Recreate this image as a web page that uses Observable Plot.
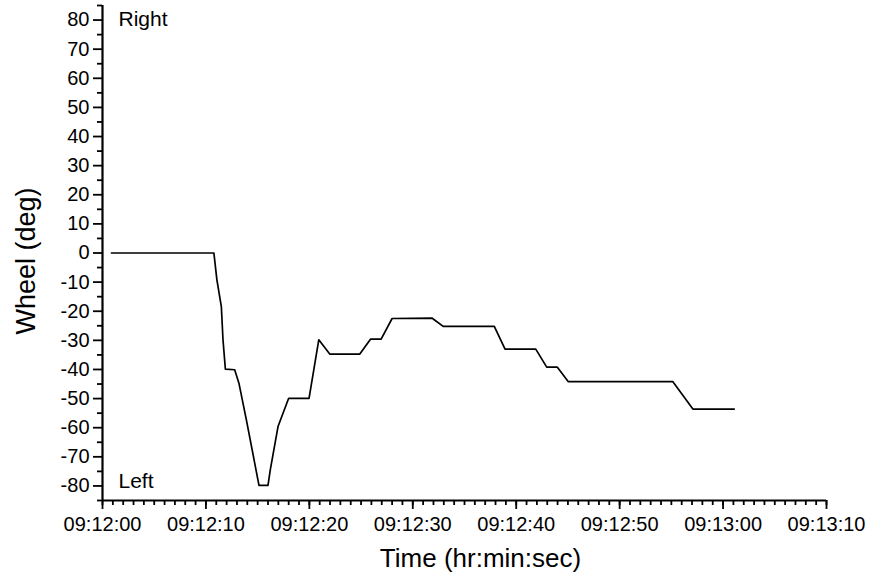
<!DOCTYPE html>
<html>
<head>
<meta charset="utf-8">
<script src="https://cdn.jsdelivr.net/npm/d3@7"></script>
<script src="https://cdn.jsdelivr.net/npm/@observablehq/plot@0.6"></script>
<style>
  html, body { margin: 0; padding: 0; background: #fff; }
  #chart svg { display: block; }
</style>
</head>
<body>
<div id="chart"></div>
<script>
// Seconds after 09:12:00
const timeSec = [0.87, 10.77, 11.06, 11.49, 11.65, 11.88, 12.78, 13.19, 13.91, 15.13, 16.0, 16.23, 16.97, 18.0, 19.97, 20.91, 21.97, 24.88, 25.91, 26.94, 28.0, 31.88, 32.94, 37.88, 38.92, 41.89, 42.95, 43.98, 45.04, 55.15, 57.08, 61.08];
const wheelDeg = [0, 0, -9.2, -18.4, -29.8, -39.9, -40.1, -44.7, -57.3, -79.8, -79.8, -74.3, -59.6, -49.9, -49.9, -29.8, -34.7, -34.7, -29.6, -29.6, -22.5, -22.4, -25.2, -25.2, -33.0, -33.0, -39.2, -39.2, -44.2, -44.2, -53.6, -53.6];

const xTickValues = [0, 10, 20, 30, 40, 50, 60, 70];
const xTickLabels = ["09:12:00", "09:12:10", "09:12:20", "09:12:30", "09:12:40", "09:12:50", "09:13:00", "09:13:10"];
const yTickValues = [-80, -70, -60, -50, -40, -30, -20, -10, 0, 10, 20, 30, 40, 50, 60, 70, 80];
const yMinorValues = [-85, -75, -65, -55, -45, -35, -25, -15, -5, 5, 15, 25, 35, 45, 55, 65, 75, 85];
const xMinorValues = d3.range(0, 71, 1);

const xLabel = "Time (hr:min:sec)";
const yLabel = "Wheel (deg)";
const annotations = ["Right", "Left"];

const data = timeSec.map((t, i) => ({t, v: wheelDeg[i]}));

const chart = Plot.plot({
  width: 875,
  height: 583,
  marginLeft: 102,
  marginRight: 49,
  marginTop: 5,
  marginBottom: 83,
  style: {fontFamily: "Arial, 'Liberation Sans', sans-serif", color: "#000", background: "#fff"},
  x: {domain: [0, 70]},
  y: {domain: [-85, 85]},
  marks: [
    Plot.axisY({ticks: yMinorValues, tickSize: 5, text: null, strokeWidth: 1.8, label: null}),
    Plot.axisY({ticks: yTickValues, tickSize: 9, tickPadding: 4, strokeWidth: 1.8, fontSize: 20, label: null,
      tickFormat: d => String(d)}),
    Plot.axisX({ticks: xMinorValues, tickSize: 5, text: null, strokeWidth: 1.8, label: null}),
    Plot.axisX({ticks: xTickValues, tickSize: 9, tickPadding: 7, strokeWidth: 1.8, fontSize: 20, label: null,
      tickFormat: d => xTickLabels[xTickValues.indexOf(d)]}),
    Plot.ruleX([0], {strokeWidth: 2.2}),
    Plot.ruleY([-85], {strokeWidth: 2.2}),
    Plot.line(data, {x: "t", y: "v", stroke: "#000", strokeWidth: 1.7}),
    Plot.text([annotations[0]], {frameAnchor: "top-left", dx: 16, dy: 6, fontSize: 21, textAnchor: "start", lineAnchor: "top"}),
    Plot.text([annotations[1]], {frameAnchor: "bottom-left", dx: 16, dy: -13, fontSize: 21, textAnchor: "start", lineAnchor: "bottom"}),
    Plot.text([xLabel], {frameAnchor: "bottom", dx: 16, dy: 66, fontSize: 26}),
    Plot.text([yLabel], {frameAnchor: "left", textAnchor: "middle", dx: -76, dy: 8, rotate: -90, fontSize: 27})
  ]
});
document.getElementById("chart").appendChild(chart);
</script>
</body>
</html>
